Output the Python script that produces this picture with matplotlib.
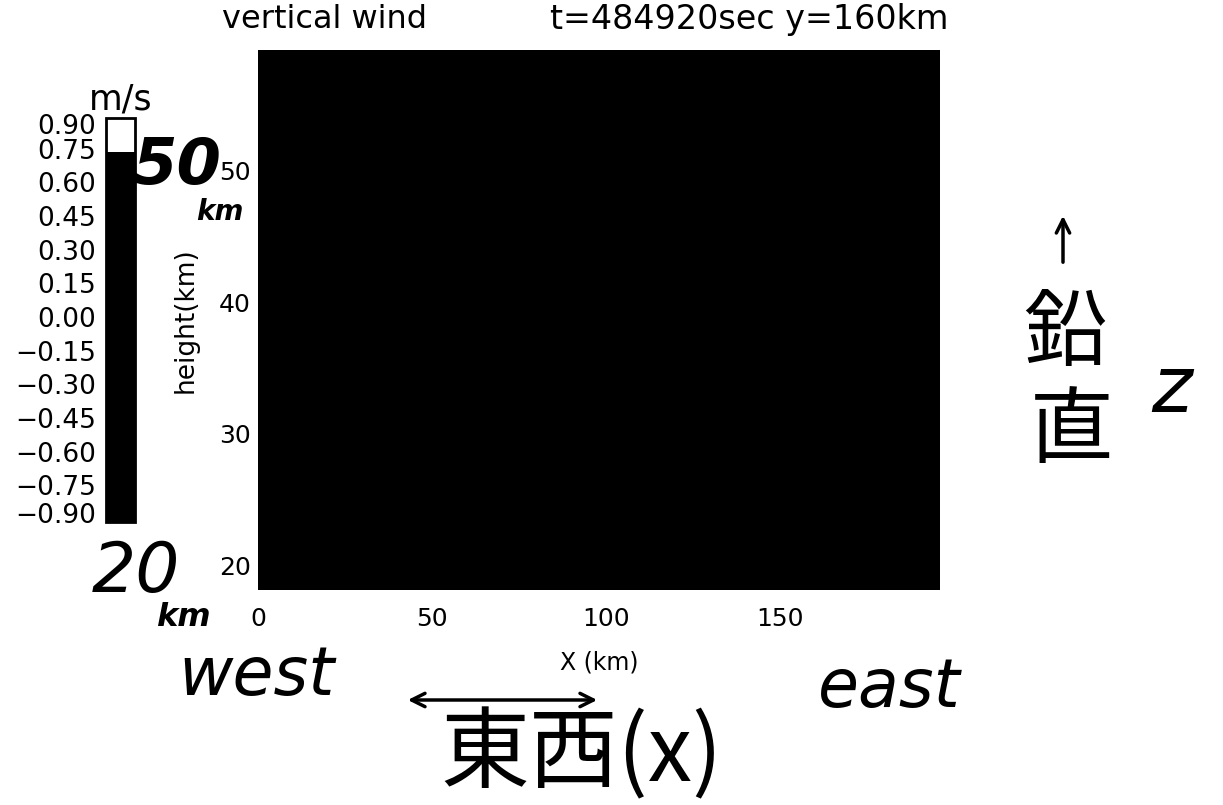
import numpy as np
import matplotlib
matplotlib.use("Agg")
import matplotlib.pyplot as plt
from matplotlib.colors import ListedColormap, BoundaryNorm
from matplotlib.patches import FancyArrowPatch
import matplotlib.transforms as mtransforms

plt.rcParams['font.family'] = ['DejaVu Sans', 'Noto Sans CJK JP']

# vertical wind section, y = 160 km, t = 484920 s
x_edges_km = [0.0, 196.0]
z_edges_km = [18.1, 59.2]
w_field = [[0.0]]  # whole section lies inside one colour band (black)

levels = [-0.90, -0.75, -0.60, -0.45, -0.30, -0.15, 0.00,
          0.15, 0.30, 0.45, 0.60, 0.75, 0.90]
level_labels = ['-0.90', '-0.75', '-0.60', '-0.45', '-0.30', '-0.15', '0.00',
                '0.15', '0.30', '0.45', '0.60', '0.75', '0.90']
x_ticks = [0, 50, 100, 150]
z_ticks = [20, 30, 40, 50]

band_colors = ['black'] * 11 + ['white']
cmap = ListedColormap(band_colors)
norm = BoundaryNorm(levels, cmap.N)

W, H = 1223, 805
fig = plt.figure(figsize=(W / 100, H / 100), dpi=100)

def px_axes(l, t, r, b):
    return fig.add_axes([l / W, 1 - b / H, (r - l) / W, (b - t) / H])

def fx(x):
    return x / W

def fy(y):
    return 1 - y / H

ax = px_axes(258, 50, 940, 590)
pc = ax.pcolormesh(x_edges_km, z_edges_km, np.array(w_field), cmap=cmap, norm=norm)
ax.set_xlim(x_edges_km)
ax.set_ylim(z_edges_km)
ax.set_xticks(x_ticks)
ax.set_yticks(z_ticks)
ax.tick_params(length=0, labelsize=18)
ax.tick_params(axis='y', pad=5)
ax.tick_params(axis='x', pad=12)
for s in ax.spines.values():
    s.set_visible(False)
ax.set_xlabel('X (km)', fontsize=17, labelpad=14)
ax.set_ylabel('height(km)', fontsize=19, labelpad=15)
fig.text(fx(324), fy(19), 'vertical wind', fontsize=23, ha='center', va='center')
fig.text(fx(749), fy(19), 't=484920sec y=160km', fontsize=24, ha='center', va='center')

# colour bar on the left
cax = px_axes(106, 118, 135, 522)
cb = fig.colorbar(pc, cax=cax)
cb.set_ticks([])
cb.minorticks_off()
cax.tick_params(which='both', length=0)
cb.outline.set_linewidth(2)
cax.set_title('m/s', fontsize=25, pad=6)
for v, lab in zip(levels, level_labels):
    dy = 0
    if v == levels[-1]:
        dy = -9
    elif v == levels[0]:
        dy = 6
    off = mtransforms.ScaledTranslation(0, dy / 100, fig.dpi_scale_trans)
    cax.text(-0.35, v, lab.replace('-', '\u2212'), ha='right', va='center', fontsize=19,
             transform=cax.get_yaxis_transform() + off)

# handwritten notes on the print
hand = dict(color='black', style='italic')
cjk = ['Noto Sans CJK JP', 'DejaVu Sans']
fig.text(fx(132), fy(166), '50', fontsize=46, va='center', ha='left', weight='bold', **hand)
fig.text(fx(196), fy(212), 'km', fontsize=20, va='center', ha='left', weight='bold', **hand)
fig.text(fx(92), fy(572), '20', fontsize=50, va='center', ha='left', **hand)
fig.text(fx(156), fy(618), 'km', fontsize=23, va='center', ha='left', weight='bold', **hand)
fig.text(fx(178), fy(676), 'west', fontsize=48, va='center', ha='left', **hand)
fig.text(fx(818), fy(688), 'east', fontsize=48, va='center', ha='left', **hand)
fig.text(fx(440), fy(756), '東西(x)', fontsize=64, va='center', ha='left', family=cjk)
fig.text(fx(1065), fy(335), '鉛', fontsize=60, va='center', ha='center', family=cjk)
fig.text(fx(1072), fy(432), '直', fontsize=60, va='center', ha='center', family=cjk)
fig.text(fx(1172), fy(390), 'z', fontsize=56, va='center', ha='center', **hand)
fig.add_artist(FancyArrowPatch((fx(1063), fy(265)), (fx(1063), fy(213)),
                               transform=fig.transFigure, arrowstyle='->',
                               mutation_scale=24, lw=2.5, color='black'))
fig.add_artist(FancyArrowPatch((fx(405), fy(700)), (fx(600), fy(700)),
                               transform=fig.transFigure, arrowstyle='<->',
                               mutation_scale=24, lw=2.5, color='black'))

fig.savefig('out.png', dpi=100)
